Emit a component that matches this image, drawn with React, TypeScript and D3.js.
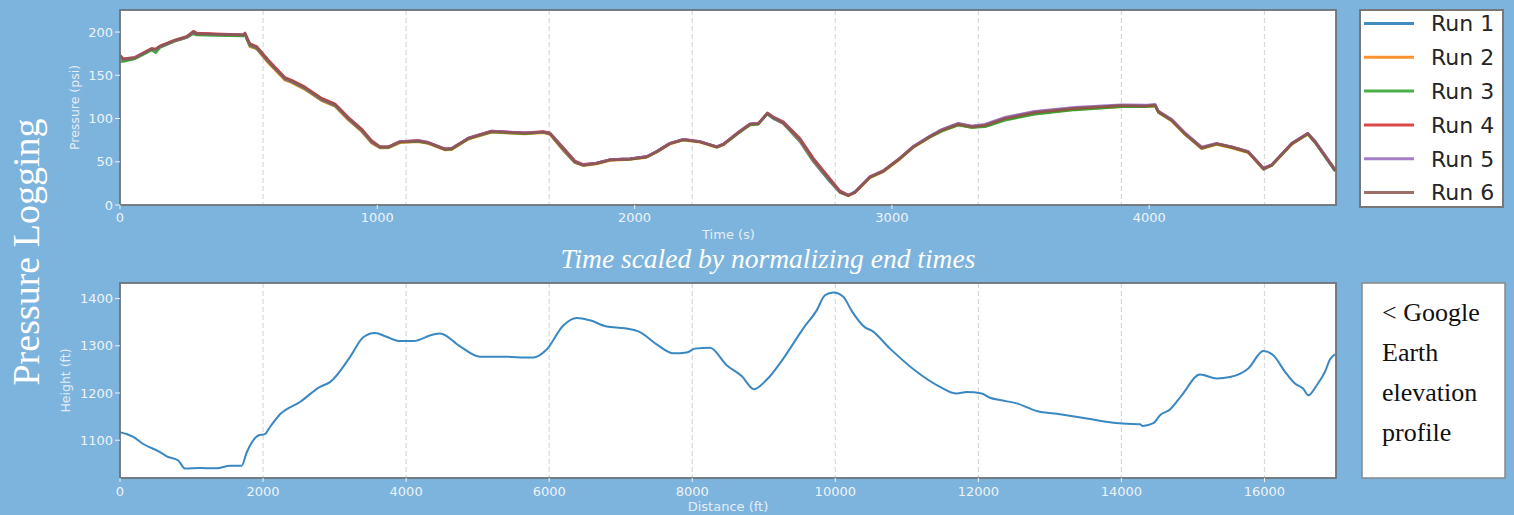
import React from 'react';
import * as d3 from 'd3';

// Pressure logs, time in seconds (scaled by normalizing end times)
const timeSec = [0, 13, 58, 123, 139, 155, 214, 259, 285, 298,
  370, 479, 486, 505, 531, 577, 641, 667, 719, 784,
  836, 887, 939, 978, 1010, 1043, 1088, 1159, 1198, 1263,
  1289, 1354, 1444, 1574, 1645, 1671, 1723, 1768, 1800, 1852,
  1904, 1982, 2047, 2086, 2138, 2190, 2254, 2319, 2345, 2409,
  2449, 2481, 2516, 2539, 2578, 2643, 2695, 2759, 2798, 2831,
  2857, 2915, 2967, 3031, 3083, 3148, 3194, 3258, 3310, 3362,
  3440, 3556, 3712, 3893, 3984, 4023, 4036, 4088, 4139, 4204,
  4262, 4321, 4385, 4444, 4476, 4554, 4616, 4645, 4723];

const run1 = [172, 168, 170, 180, 180, 183, 190, 194, 199, 198,
  197.5, 196.5, 197, 184, 181, 165, 145, 142, 134, 121,
  114.5, 99, 85.5, 72, 67, 67, 73, 74, 72, 64.5,
  65, 77, 85, 83, 84, 82, 63, 49, 46, 48.5,
  52.5, 53.5, 56, 62, 71.5, 75.5, 73, 67, 70, 85,
  93, 94, 105, 100, 94, 73, 50, 27, 14.5, 11,
  15, 32, 39, 53.5, 67, 79, 86, 93, 90, 91.5,
  99.5, 106, 111, 114.5, 114, 115, 107, 97.5, 82, 65.5,
  70.5, 66.5, 61, 41, 46, 71, 82, 72, 39];

const run2 = [171, 167, 169.5, 180, 180, 182.5, 189.5, 193.5, 199, 197.5,
  197, 196, 197, 183, 180.5, 164, 144.5, 141.5, 133.5, 120.5,
  114, 98.5, 85, 71.5, 66, 66, 72, 73, 71, 63.5,
  64, 76, 84, 82, 83.5, 81.5, 63.5, 49, 45.5, 47.5,
  51.5, 52.5, 55, 61, 70.5, 75, 72.5, 66.5, 69.5, 84.5,
  93, 93.5, 105.5, 100.5, 94.5, 74, 51, 28, 14.5, 10.5,
  14.5, 31.5, 38.5, 53, 66.5, 78.5, 85.5, 92.5, 89.5, 91,
  99, 105.5, 110.5, 113.5, 113.5, 114.5, 107, 97, 81.5, 65,
  70, 66, 60.5, 41.5, 45.5, 70, 82, 72.5, 39.5];

const run3 = [166, 166, 169, 179, 176, 182, 189.5, 193.5, 198, 196.5,
  196, 195.5, 197, 184, 181, 165.5, 145.5, 142.5, 134.5, 121.5,
  115, 99.5, 86, 72.5, 66.5, 66.5, 72.5, 73.5, 71.5, 64,
  64.5, 76.5, 84.5, 82.5, 84, 82.5, 64.5, 49.5, 46, 48,
  52, 53, 55.5, 61.5, 71, 75.5, 73, 67, 70, 84,
  92.5, 93.5, 105.5, 100.5, 95, 75, 52, 28.5, 15, 11,
  15.5, 32, 39, 53.5, 67, 78.5, 85.5, 92.5, 89.5, 90.5,
  98, 105, 110, 113.5, 113.5, 114.5, 107, 97.5, 82, 65.5,
  70.5, 66.5, 61, 42, 45.5, 70.5, 82, 72.5, 39.5];

const run4 = [173.5, 169, 171, 181, 180.5, 184, 191, 195, 201, 199,
  198, 197, 199, 186.5, 183.5, 167.5, 147.5, 144.5, 136.5, 123.5,
  117, 101.5, 88, 74.5, 67.5, 67.5, 73.5, 74.5, 72.5, 65,
  65.5, 77.5, 85.5, 83.5, 85, 83.5, 66.5, 51, 47, 48.5,
  52.5, 53.5, 56, 62, 71.5, 76, 73.5, 67.5, 70.5, 85.5,
  94, 94.5, 106.5, 102, 96.5, 77, 54, 30.5, 16.5, 11.5,
  14.5, 32.5, 39.5, 54, 67.5, 79.5, 87, 94, 91, 92.5,
  100.5, 107.5, 112, 115, 114.5, 115.5, 108, 98.5, 83, 66.5,
  71, 67, 61.5, 42.5, 46.5, 71, 83, 73.5, 40.5];

const run5 = [172, 168, 170.5, 180.5, 180, 183, 190, 194, 199.5, 198,
  197.5, 196.5, 198, 185, 182, 166, 146, 143, 135, 122,
  115.5, 100, 86.5, 73, 67, 67, 73.5, 74.5, 72.5, 65,
  65.5, 77.5, 85.5, 83.5, 84.5, 83, 65.5, 50, 46.5, 48.5,
  52.5, 53.5, 56, 62, 71.5, 76, 73.5, 67.5, 70.5, 85.5,
  94, 94.5, 106, 101.5, 95.5, 75.5, 52.5, 29, 15.5, 11.5,
  15.5, 33, 40, 54.5, 68, 80, 87.5, 94.5, 91.5, 93.5,
  101.5, 108.5, 113, 116, 115.5, 116.5, 108.5, 99, 83.5, 67,
  71.5, 67.5, 62, 43, 46.5, 71.5, 83, 74, 41];

const run6 = [172.5, 168.5, 170, 180.5, 180, 183.5, 190.5, 194.5, 200, 198,
  197.5, 196.5, 198, 185.5, 182.5, 166.5, 146.5, 143.5, 135.5, 122.5,
  116, 100.5, 87, 73.5, 67, 67, 73, 74, 72, 64.5,
  65, 77, 85, 83, 84.5, 82.5, 65, 50, 46, 48,
  52, 53, 55.5, 61.5, 71, 75.5, 73, 67, 70, 85,
  93.5, 94, 106, 101, 95, 75.5, 52.5, 29, 15, 11,
  15, 32.5, 39.5, 54, 67, 79, 86.5, 93.5, 90.5, 92,
  100, 107, 112, 115, 114.5, 115.5, 108, 98, 82.5, 66,
  71, 67, 61.5, 42, 46, 71, 82.5, 73, 40];

const runNames = ['Run 1', 'Run 2', 'Run 3', 'Run 4', 'Run 5', 'Run 6'];
const runValues = [run1, run2, run3, run4, run5, run6];
const runColors = ['#1f77b4', '#ff7f0e', '#2ca02c', '#d62728', '#9467bd', '#8c564b'];

// Google Earth elevation profile
const distanceFt = [0, 186, 326, 559, 653, 815, 909, 1118, 1352, 1538,
  1701, 1771, 1934, 2027, 2097, 2237, 2516, 2796, 2936, 3215,
  3401, 3565, 3728, 3914, 4101, 4380, 4474, 4753, 5033, 5312,
  5778, 5965, 6197, 6384, 6570, 6803, 7059, 7269, 7503, 7735,
  7921, 8038, 8248, 8481, 8691, 8863, 9040, 9273, 9553, 9740,
  9856, 9972, 10112, 10229, 10415, 10509, 10765, 11138, 11464, 11697,
  11837, 12047, 12163, 12303, 12536, 12816, 13142, 13515, 13888, 14074,
  14260, 14297, 14446, 14540, 14679, 14843, 15098, 15333, 15518, 15774,
  15984, 16123, 16287, 16426, 16543, 16613, 16729, 16846, 16916, 16986];

const heightFt = [1117, 1107, 1092, 1075, 1066, 1057, 1040, 1041, 1040.5, 1046,
  1046, 1074, 1110, 1113, 1128, 1155, 1181, 1213, 1223, 1276,
  1318, 1327, 1319, 1310, 1310, 1324, 1326, 1299, 1277, 1277,
  1275, 1292, 1343, 1359, 1354, 1341, 1337, 1329, 1303, 1284,
  1286, 1294, 1296, 1259, 1236, 1208, 1228, 1273, 1337, 1375,
  1407, 1413, 1404, 1374, 1339, 1332, 1294, 1245, 1213, 1199,
  1202, 1199, 1190, 1185, 1178, 1162, 1155, 1146, 1137, 1135,
  1134, 1130, 1136, 1153, 1165, 1195, 1239, 1231, 1234, 1252,
  1289, 1280, 1245, 1220, 1209, 1195, 1216, 1245, 1271, 1282];

const pressureTicks = [0, 50, 100, 150, 200];
const timeTicks = [0, 1000, 2000, 3000, 4000];
const heightTicks = [1100, 1200, 1300, 1400];
const distanceTicks = [0, 2000, 4000, 6000, 8000, 10000, 12000, 14000, 16000];
const noteLines = ['< Google', 'Earth', 'elevation', 'profile'];

const W = 1514;
const H = 515;
const BG = '#7db4dd';
const SANS = 'DejaVu Sans, sans-serif';
const SERIF = 'Liberation Serif, Times New Roman, serif';
const TICK_COLOR = '#eef3f8';

const left = 120;
const right = 1336;
const top1 = { top: 10, bottom: 205 };
const top2 = { top: 283, bottom: 478 };

export default function App() {
  const xTime = d3.scaleLinear().domain([0, 4726]).range([left, right]);
  const yPress = d3.scaleLinear().domain([0, 225.5]).range([top1.bottom, top1.top]);
  const xDist = d3.scaleLinear().domain([0, 17000]).range([left, right]);
  const yHeight = d3.scaleLinear().domain([1020, 1433]).range([top2.bottom, top2.top]);

  const runLine = d3.line<number>()
    .defined((v) => v != null && !isNaN(v))
    .x((_, i) => xTime(timeSec[i]))
    .y((v) => yPress(v));

  const elevLine = d3.line<number>()
    .x((_, i) => xDist(distanceFt[i]))
    .y((v) => yHeight(v))
    .curve(d3.curveMonotoneX);

  const grid = distanceTicks.filter((d) => d > 0);

  const panel = (p: { top: number; bottom: number }) => (
    <rect x={left} y={p.top} width={right - left} height={p.bottom - p.top} fill="#fff" />
  );

  const gridLines = (p: { top: number; bottom: number }) =>
    grid.map((d) => (
      <line key={d} x1={xDist(d)} x2={xDist(d)} y1={p.top} y2={p.bottom}
        stroke="#d9d9d9" strokeWidth={1.2} strokeDasharray="5,3" />
    ));

  const frame = (p: { top: number; bottom: number }) => (
    <rect x={left} y={p.top} width={right - left} height={p.bottom - p.top}
      fill="none" stroke="#6e7378" strokeWidth={1.8} />
  );

  return (
    <svg width={W} height={H} style={{ position: 'absolute', left: 0, top: 0 }}>
      <defs>
        <clipPath id="clipTop">
          <rect x={left} y={top1.top} width={right - left} height={top1.bottom - top1.top} />
        </clipPath>
        <clipPath id="clipBot">
          <rect x={left} y={top2.top} width={right - left} height={top2.bottom - top2.top} />
        </clipPath>
      </defs>
      <rect width={W} height={H} fill={BG} />

      {/* side title */}
      <text transform={`translate(39, 252) rotate(-90)`} textAnchor="middle"
        fontFamily={SERIF} fontSize={38} fill="#fff">Pressure Logging</text>

      {/* pressure panel */}
      {panel(top1)}
      {gridLines(top1)}
      <g clipPath="url(#clipTop)">
        {runValues.map((vals, i) => (
          <path key={runNames[i]} d={runLine(vals) || ''} fill="none"
            stroke={runColors[i]} strokeWidth={2.5} strokeOpacity={0.9} strokeLinejoin="round" />
        ))}
      </g>
      {frame(top1)}
      {pressureTicks.map((t) => (
        <g key={t}>
          <line x1={left - 5} x2={left} y1={yPress(t)} y2={yPress(t)} stroke={TICK_COLOR} />
          <text x={left - 7} y={yPress(t)} dy="0.35em" textAnchor="end"
            fontFamily={SANS} fontSize={13} fill={TICK_COLOR}>{t}</text>
        </g>
      ))}
      {timeTicks.map((t) => (
        <g key={t}>
          <line x1={xTime(t)} x2={xTime(t)} y1={top1.bottom} y2={top1.bottom + 4} stroke={TICK_COLOR} />
          <text x={xTime(t)} y={top1.bottom + 17} textAnchor="middle"
            fontFamily={SANS} fontSize={13} fill={TICK_COLOR}>{t}</text>
        </g>
      ))}
      <text x={(left + right) / 2 + 0.5} y={239} textAnchor="middle"
        fontFamily={SANS} fontSize={13} fill="#e4edf6">Time (s)</text>
      <text transform={`translate(79, ${(top1.top + top1.bottom) / 2}) rotate(-90)`} textAnchor="middle"
        fontFamily={SANS} fontSize={12.5} fill="#e4edf6">Pressure (psi)</text>

      {/* legend */}
      <rect x={1360} y={10} width={143} height={197} fill="#fff" stroke="#777" strokeWidth={2} />
      {runNames.map((name, i) => (
        <g key={name}>
          <line x1={1364} x2={1414} y1={23.5 + i * 33.8} y2={23.5 + i * 33.8}
            stroke={runColors[i]} strokeWidth={3} strokeOpacity={0.85} />
          <text x={1431} y={23.5 + i * 33.8} dy="0.36em" fontFamily={SANS}
            fontSize={22} fill="#262626">{name}</text>
        </g>
      ))}

      {/* subtitle */}
      <text x={768} y={268} textAnchor="middle" fontFamily={SERIF} fontStyle="italic"
        fontSize={27.5} fill="#fff">Time scaled by normalizing end times</text>

      {/* elevation panel */}
      {panel(top2)}
      {gridLines(top2)}
      <g clipPath="url(#clipBot)">
        <path d={elevLine(heightFt) || ''} fill="none" stroke="#3a88c2" strokeWidth={2} />
      </g>
      {frame(top2)}
      {heightTicks.map((t) => (
        <g key={t}>
          <line x1={left - 5} x2={left} y1={yHeight(t)} y2={yHeight(t)} stroke={TICK_COLOR} />
          <text x={left - 7} y={yHeight(t)} dy="0.35em" textAnchor="end"
            fontFamily={SANS} fontSize={13} fill={TICK_COLOR}>{t}</text>
        </g>
      ))}
      {distanceTicks.map((t) => (
        <g key={t}>
          <line x1={xDist(t)} x2={xDist(t)} y1={top2.bottom} y2={top2.bottom + 4} stroke={TICK_COLOR} />
          <text x={xDist(t)} y={top2.bottom + 18} textAnchor="middle"
            fontFamily={SANS} fontSize={13} fill={TICK_COLOR}>{t}</text>
        </g>
      ))}
      <text x={(left + right) / 2} y={511} textAnchor="middle"
        fontFamily={SANS} fontSize={13} fill="#e4edf6">Distance (ft)</text>
      <text transform={`translate(70, ${(top2.top + top2.bottom) / 2}) rotate(-90)`} textAnchor="middle"
        fontFamily={SANS} fontSize={12.5} fill="#e4edf6">Height (ft)</text>

      {/* note box */}
      <rect x={1362} y={283} width={143} height={195} fill="#fff" stroke="#888" strokeWidth={1.5} />
      {noteLines.map((line, i) => (
        <text key={line} x={1382} y={321 + i * 40} fontFamily={SERIF} fontSize={26} fill="#111">{line}</text>
      ))}
    </svg>
  );
}
